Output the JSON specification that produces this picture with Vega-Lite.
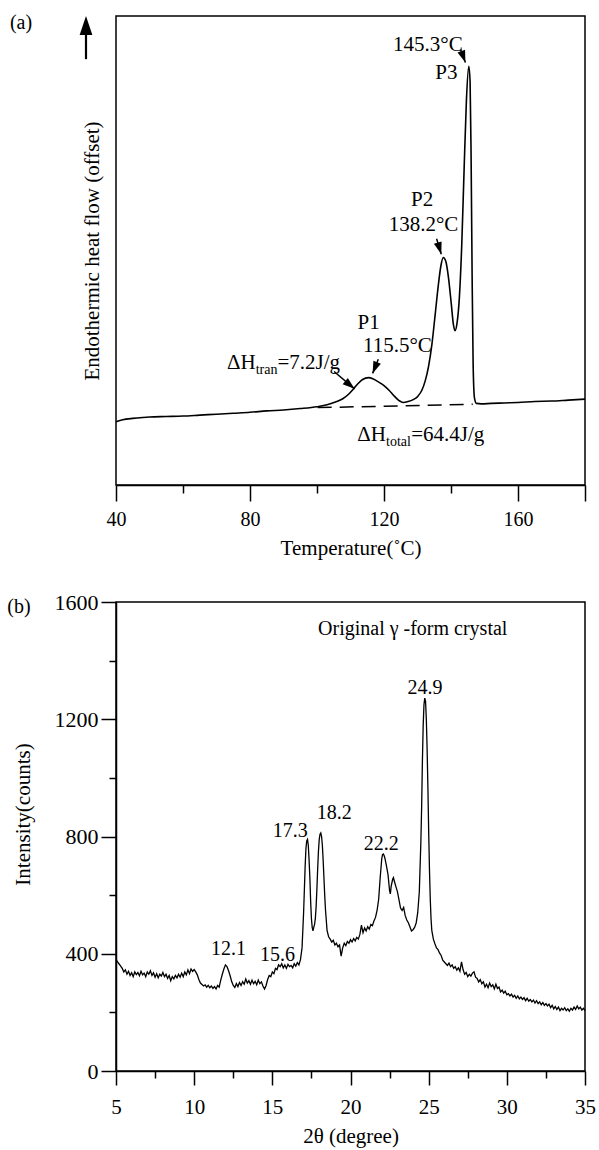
{
  "$schema": "https://vega.github.io/schema/vega-lite/v6.json",
  "padding": {"left": 6, "top": 12, "right": 2, "bottom": 2},
  "spacing": 31,
  "background": "white",
  "config": {
    "font": "Liberation Serif",
    "view": {"stroke": "black", "strokeWidth": 1.5},
    "axis": {
      "labelFont": "Liberation Serif", "labelFontSize": 20, "labelColor": "black",
      "titleFont": "Liberation Serif", "titleFontSize": 21, "titleFontWeight": "normal", "titleColor": "black",
      "domainColor": "black", "domainWidth": 1.5, "tickColor": "black", "tickWidth": 1.5,
      "grid": false, "labelFlush": false, "labelOverlap": false
    },
    "text": {"font": "Liberation Serif", "fontSize": 21, "color": "black"}
  },
  "datasets": {
    "dsc": [
      {"T": 40, "v": 13.5}, {"T": 42, "v": 13.9}, {"T": 45, "v": 14.2}, {"T": 48, "v": 14.4},
      {"T": 50, "v": 14.5}, {"T": 55, "v": 14.6}, {"T": 60, "v": 14.7}, {"T": 65, "v": 14.9},
      {"T": 70, "v": 15.1}, {"T": 75, "v": 15.3}, {"T": 80, "v": 15.5}, {"T": 85, "v": 15.8},
      {"T": 90, "v": 16.0}, {"T": 95, "v": 16.3}, {"T": 100, "v": 16.7}, {"T": 103, "v": 17.1},
      {"T": 105.5, "v": 17.7}, {"T": 107.7, "v": 18.4}, {"T": 109.5, "v": 19.4}, {"T": 110.8, "v": 20.4},
      {"T": 112.2, "v": 21.6}, {"T": 113.6, "v": 22.5}, {"T": 115.4, "v": 22.9}, {"T": 116.8, "v": 22.6},
      {"T": 118.3, "v": 22.0}, {"T": 120, "v": 21.2}, {"T": 121.5, "v": 20.2}, {"T": 123, "v": 19.0},
      {"T": 124.5, "v": 18.0}, {"T": 125.7, "v": 17.6}, {"T": 127.2, "v": 17.8}, {"T": 128.7, "v": 18.2},
      {"T": 130.2, "v": 19.0}, {"T": 131.3, "v": 20.2}, {"T": 132.3, "v": 22.2}, {"T": 133.3, "v": 25.3},
      {"T": 134.3, "v": 30.0}, {"T": 135.3, "v": 36.5}, {"T": 136.2, "v": 42.5}, {"T": 137.0, "v": 46.8},
      {"T": 137.7, "v": 48.5}, {"T": 138.4, "v": 47.8}, {"T": 139.2, "v": 44.5}, {"T": 140.1, "v": 38.5},
      {"T": 140.7, "v": 34.3}, {"T": 141.2, "v": 32.9}, {"T": 141.8, "v": 34.5}, {"T": 142.5, "v": 40.0},
      {"T": 143.2, "v": 51.0}, {"T": 143.9, "v": 67.0}, {"T": 144.6, "v": 82.0}, {"T": 145.3, "v": 89.3},
      {"T": 145.7, "v": 86.0}, {"T": 146.0, "v": 70.0}, {"T": 146.3, "v": 45.0}, {"T": 146.6, "v": 26.0},
      {"T": 147.0, "v": 18.6}, {"T": 147.6, "v": 17.4}, {"T": 149, "v": 17.3}, {"T": 152, "v": 17.4},
      {"T": 156, "v": 17.5}, {"T": 160, "v": 17.6}, {"T": 165, "v": 17.8}, {"T": 170, "v": 17.9},
      {"T": 175, "v": 18.1}, {"T": 180, "v": 18.3}
    ],
    "xrd": [
      {"t": 5.0, "c": 380}, {"t": 5.1, "c": 372}, {"t": 5.2, "c": 365}, {"t": 5.3, "c": 358}, {"t": 5.4, "c": 350},
      {"t": 5.5, "c": 338}, {"t": 5.6, "c": 345}, {"t": 5.7, "c": 330}, {"t": 5.8, "c": 340}, {"t": 5.9, "c": 326},
      {"t": 6.0, "c": 335}, {"t": 6.1, "c": 322}, {"t": 6.2, "c": 338}, {"t": 6.3, "c": 329}, {"t": 6.4, "c": 336},
      {"t": 6.5, "c": 325}, {"t": 6.6, "c": 340}, {"t": 6.7, "c": 328}, {"t": 6.8, "c": 334}, {"t": 6.9, "c": 322},
      {"t": 7.0, "c": 338}, {"t": 7.1, "c": 330}, {"t": 7.2, "c": 342}, {"t": 7.3, "c": 326}, {"t": 7.4, "c": 335},
      {"t": 7.5, "c": 320}, {"t": 7.6, "c": 332}, {"t": 7.7, "c": 318}, {"t": 7.8, "c": 330}, {"t": 7.9, "c": 324},
      {"t": 8.0, "c": 336}, {"t": 8.1, "c": 322}, {"t": 8.2, "c": 330}, {"t": 8.3, "c": 316}, {"t": 8.4, "c": 326},
      {"t": 8.5, "c": 308}, {"t": 8.6, "c": 322}, {"t": 8.7, "c": 314}, {"t": 8.8, "c": 326}, {"t": 8.9, "c": 318},
      {"t": 9.0, "c": 330}, {"t": 9.1, "c": 320}, {"t": 9.2, "c": 334}, {"t": 9.3, "c": 322}, {"t": 9.4, "c": 338},
      {"t": 9.5, "c": 328}, {"t": 9.6, "c": 345}, {"t": 9.7, "c": 332}, {"t": 9.8, "c": 348}, {"t": 9.9, "c": 340},
      {"t": 10.0, "c": 346}, {"t": 10.1, "c": 338}, {"t": 10.2, "c": 328}, {"t": 10.3, "c": 312}, {"t": 10.4, "c": 300},
      {"t": 10.5, "c": 295}, {"t": 10.6, "c": 290}, {"t": 10.7, "c": 294}, {"t": 10.8, "c": 286}, {"t": 10.9, "c": 292},
      {"t": 11.0, "c": 284}, {"t": 11.1, "c": 290}, {"t": 11.2, "c": 282}, {"t": 11.3, "c": 288}, {"t": 11.4, "c": 280},
      {"t": 11.5, "c": 292}, {"t": 11.6, "c": 286}, {"t": 11.7, "c": 310}, {"t": 11.8, "c": 330}, {"t": 11.9, "c": 348},
      {"t": 12.0, "c": 362}, {"t": 12.1, "c": 356}, {"t": 12.2, "c": 342}, {"t": 12.3, "c": 325}, {"t": 12.4, "c": 305},
      {"t": 12.5, "c": 292}, {"t": 12.6, "c": 285}, {"t": 12.7, "c": 298}, {"t": 12.8, "c": 288}, {"t": 12.9, "c": 302},
      {"t": 13.0, "c": 292}, {"t": 13.1, "c": 305}, {"t": 13.2, "c": 296}, {"t": 13.3, "c": 314}, {"t": 13.4, "c": 300},
      {"t": 13.5, "c": 308}, {"t": 13.6, "c": 296}, {"t": 13.7, "c": 310}, {"t": 13.8, "c": 298}, {"t": 13.9, "c": 306},
      {"t": 14.0, "c": 294}, {"t": 14.1, "c": 310}, {"t": 14.2, "c": 298}, {"t": 14.3, "c": 304}, {"t": 14.4, "c": 290},
      {"t": 14.5, "c": 280}, {"t": 14.6, "c": 292}, {"t": 14.7, "c": 312}, {"t": 14.8, "c": 326}, {"t": 14.9, "c": 322},
      {"t": 15.0, "c": 338}, {"t": 15.1, "c": 332}, {"t": 15.2, "c": 350}, {"t": 15.3, "c": 346}, {"t": 15.4, "c": 362},
      {"t": 15.5, "c": 356}, {"t": 15.6, "c": 366}, {"t": 15.7, "c": 352}, {"t": 15.8, "c": 362}, {"t": 15.9, "c": 350},
      {"t": 16.0, "c": 364}, {"t": 16.1, "c": 356}, {"t": 16.2, "c": 360}, {"t": 16.3, "c": 352}, {"t": 16.4, "c": 366},
      {"t": 16.5, "c": 358}, {"t": 16.6, "c": 370}, {"t": 16.7, "c": 362}, {"t": 16.8, "c": 380}, {"t": 16.9, "c": 420},
      {"t": 17.0, "c": 540}, {"t": 17.05, "c": 620}, {"t": 17.1, "c": 700}, {"t": 17.15, "c": 760}, {"t": 17.2, "c": 785},
      {"t": 17.25, "c": 790}, {"t": 17.3, "c": 770}, {"t": 17.35, "c": 720}, {"t": 17.4, "c": 660}, {"t": 17.45, "c": 580},
      {"t": 17.5, "c": 520}, {"t": 17.55, "c": 490}, {"t": 17.6, "c": 478}, {"t": 17.65, "c": 490}, {"t": 17.7, "c": 500},
      {"t": 17.75, "c": 520}, {"t": 17.8, "c": 560}, {"t": 17.85, "c": 620}, {"t": 17.9, "c": 690}, {"t": 17.95, "c": 750},
      {"t": 18.0, "c": 790}, {"t": 18.05, "c": 808}, {"t": 18.1, "c": 812}, {"t": 18.15, "c": 800}, {"t": 18.2, "c": 770},
      {"t": 18.25, "c": 720}, {"t": 18.3, "c": 660}, {"t": 18.35, "c": 600}, {"t": 18.4, "c": 550}, {"t": 18.5, "c": 480},
      {"t": 18.6, "c": 458}, {"t": 18.7, "c": 450}, {"t": 18.8, "c": 440}, {"t": 18.9, "c": 446}, {"t": 19.0, "c": 430},
      {"t": 19.1, "c": 436}, {"t": 19.2, "c": 424}, {"t": 19.3, "c": 430}, {"t": 19.4, "c": 392}, {"t": 19.5, "c": 420},
      {"t": 19.6, "c": 436}, {"t": 19.7, "c": 428}, {"t": 19.8, "c": 442}, {"t": 19.9, "c": 436}, {"t": 20.0, "c": 448},
      {"t": 20.1, "c": 440}, {"t": 20.2, "c": 452}, {"t": 20.3, "c": 444}, {"t": 20.4, "c": 456}, {"t": 20.5, "c": 450},
      {"t": 20.6, "c": 466}, {"t": 20.7, "c": 498}, {"t": 20.8, "c": 472}, {"t": 20.9, "c": 488}, {"t": 21.0, "c": 478},
      {"t": 21.1, "c": 492}, {"t": 21.2, "c": 484}, {"t": 21.3, "c": 500}, {"t": 21.4, "c": 496}, {"t": 21.5, "c": 512},
      {"t": 21.6, "c": 524}, {"t": 21.7, "c": 548}, {"t": 21.8, "c": 585}, {"t": 21.9, "c": 660}, {"t": 22.0, "c": 725},
      {"t": 22.05, "c": 738}, {"t": 22.1, "c": 740}, {"t": 22.15, "c": 735}, {"t": 22.2, "c": 726}, {"t": 22.3, "c": 700},
      {"t": 22.4, "c": 670}, {"t": 22.5, "c": 615}, {"t": 22.55, "c": 604}, {"t": 22.6, "c": 630}, {"t": 22.7, "c": 655},
      {"t": 22.75, "c": 660}, {"t": 22.8, "c": 648}, {"t": 22.9, "c": 630}, {"t": 23.0, "c": 612}, {"t": 23.1, "c": 585},
      {"t": 23.2, "c": 556}, {"t": 23.3, "c": 548}, {"t": 23.4, "c": 558}, {"t": 23.5, "c": 530}, {"t": 23.6, "c": 515},
      {"t": 23.7, "c": 506}, {"t": 23.8, "c": 492}, {"t": 23.9, "c": 478}, {"t": 24.0, "c": 482}, {"t": 24.1, "c": 490},
      {"t": 24.2, "c": 505}, {"t": 24.3, "c": 540}, {"t": 24.4, "c": 610}, {"t": 24.5, "c": 780}, {"t": 24.55, "c": 900},
      {"t": 24.6, "c": 1060}, {"t": 24.65, "c": 1180}, {"t": 24.7, "c": 1250}, {"t": 24.75, "c": 1272}, {"t": 24.8, "c": 1262},
      {"t": 24.85, "c": 1200}, {"t": 24.9, "c": 1100}, {"t": 24.95, "c": 970}, {"t": 25.0, "c": 820}, {"t": 25.05, "c": 690},
      {"t": 25.1, "c": 590}, {"t": 25.15, "c": 520}, {"t": 25.2, "c": 480}, {"t": 25.3, "c": 450}, {"t": 25.4, "c": 434},
      {"t": 25.5, "c": 420}, {"t": 25.6, "c": 414}, {"t": 25.7, "c": 402}, {"t": 25.8, "c": 394}, {"t": 25.9, "c": 378},
      {"t": 26.0, "c": 372}, {"t": 26.1, "c": 366}, {"t": 26.2, "c": 360}, {"t": 26.3, "c": 368}, {"t": 26.4, "c": 356},
      {"t": 26.5, "c": 362}, {"t": 26.6, "c": 350}, {"t": 26.7, "c": 356}, {"t": 26.8, "c": 344}, {"t": 26.9, "c": 352},
      {"t": 27.0, "c": 340}, {"t": 27.1, "c": 372}, {"t": 27.2, "c": 346}, {"t": 27.3, "c": 330}, {"t": 27.4, "c": 336},
      {"t": 27.5, "c": 322}, {"t": 27.6, "c": 330}, {"t": 27.7, "c": 324}, {"t": 27.8, "c": 334}, {"t": 27.9, "c": 338},
      {"t": 28.0, "c": 320}, {"t": 28.1, "c": 316}, {"t": 28.2, "c": 304}, {"t": 28.3, "c": 312}, {"t": 28.4, "c": 298},
      {"t": 28.5, "c": 304}, {"t": 28.6, "c": 286}, {"t": 28.7, "c": 296}, {"t": 28.8, "c": 284}, {"t": 28.9, "c": 300},
      {"t": 29.0, "c": 288}, {"t": 29.1, "c": 294}, {"t": 29.2, "c": 280}, {"t": 29.3, "c": 296}, {"t": 29.4, "c": 282},
      {"t": 29.5, "c": 286}, {"t": 29.6, "c": 270}, {"t": 29.7, "c": 276}, {"t": 29.8, "c": 266}, {"t": 29.9, "c": 272},
      {"t": 30.0, "c": 260}, {"t": 30.1, "c": 264}, {"t": 30.2, "c": 256}, {"t": 30.3, "c": 262}, {"t": 30.4, "c": 252},
      {"t": 30.5, "c": 258}, {"t": 30.6, "c": 248}, {"t": 30.7, "c": 256}, {"t": 30.8, "c": 246}, {"t": 30.9, "c": 252},
      {"t": 31.0, "c": 244}, {"t": 31.1, "c": 250}, {"t": 31.2, "c": 240}, {"t": 31.3, "c": 248}, {"t": 31.4, "c": 238},
      {"t": 31.5, "c": 244}, {"t": 31.6, "c": 236}, {"t": 31.7, "c": 242}, {"t": 31.8, "c": 232}, {"t": 31.9, "c": 240},
      {"t": 32.0, "c": 230}, {"t": 32.1, "c": 236}, {"t": 32.2, "c": 226}, {"t": 32.3, "c": 234}, {"t": 32.4, "c": 224},
      {"t": 32.5, "c": 230}, {"t": 32.6, "c": 222}, {"t": 32.7, "c": 228}, {"t": 32.8, "c": 216}, {"t": 32.9, "c": 224},
      {"t": 33.0, "c": 212}, {"t": 33.1, "c": 220}, {"t": 33.2, "c": 210}, {"t": 33.3, "c": 218}, {"t": 33.4, "c": 206},
      {"t": 33.5, "c": 214}, {"t": 33.6, "c": 208}, {"t": 33.7, "c": 216}, {"t": 33.8, "c": 206}, {"t": 33.9, "c": 212},
      {"t": 34.0, "c": 204}, {"t": 34.1, "c": 214}, {"t": 34.2, "c": 208}, {"t": 34.3, "c": 218}, {"t": 34.4, "c": 210},
      {"t": 34.5, "c": 222}, {"t": 34.6, "c": 212}, {"t": 34.7, "c": 218}, {"t": 34.8, "c": 208}, {"t": 34.9, "c": 214},
      {"t": 35.0, "c": 206}
    ]
  },
  "vconcat": [
    {
      "width": 469,
      "height": 469,
      "encoding": {
        "x": {
          "field": "T", "type": "quantitative",
          "scale": {"domain": [40, 180], "nice": false, "zero": false},
          "axis": {
            "title": "Temperature(˚C)",
            "values": [40, 60, 80, 100, 120, 140, 160, 180],
            "labelExpr": "(datum.value % 40 == 0 && datum.value < 180) ? datum.label : ''",
            "tickSize": {"condition": {"test": "datum.value % 40 == 0 || datum.value == 180", "value": 16}, "value": 8},
            "labelPadding": 8,
            "titlePadding": 8
          }
        },
        "y": {
          "field": "v", "type": "quantitative",
          "scale": {"domain": [0, 100], "nice": false, "zero": false},
          "axis": {
            "title": "Endothermic heat flow (offset)",
            "ticks": false, "labels": false, "domain": false,
            "titlePadding": 14
          }
        }
      },
      "layer": [
        {
          "data": {"name": "dsc"},
          "mark": {"type": "line", "color": "black", "strokeWidth": 1.6, "interpolate": "monotone"}
        },
        {
          "data": {"values": [{"T": 100.2, "v": 16.5}, {"T": 146.5, "v": 17.2}]},
          "mark": {"type": "line", "color": "black", "strokeWidth": 1.5, "strokeDash": [14, 8]}
        },
        {
          "data": {"values": [
            {"T": 133.1, "v": 93.9, "label": "145.3°C"},
            {"T": 138.6, "v": 87.8, "label": "P3"},
            {"T": 131.4, "v": 60.7, "label": "P2"},
            {"T": 131.8, "v": 55.4, "label": "138.2°C"},
            {"T": 115.4, "v": 34.6, "label": "P1"},
            {"T": 124.0, "v": 29.6, "label": "115.5°C"}
          ]},
          "mark": {"type": "text", "align": "center", "baseline": "middle"},
          "encoding": {"text": {"field": "label"}}
        },
        {
          "data": {"values": [
            {"T": 81.7, "v": 26.0, "label": "ΔH"},
            {"T": 120.6, "v": 10.6, "label": "ΔH"}
          ]},
          "mark": {"type": "text", "align": "right", "baseline": "middle"},
          "encoding": {"text": {"field": "label"}}
        },
        {
          "data": {"values": [
            {"T": 81.7, "v": 24.6, "label": "tran"},
            {"T": 120.6, "v": 9.2, "label": "total"}
          ]},
          "mark": {"type": "text", "align": "left", "baseline": "middle", "fontSize": 14},
          "encoding": {"text": {"field": "label"}}
        },
        {
          "data": {"values": [
            {"T": 88.2, "v": 26.0, "label": "=7.2J/g"},
            {"T": 128.1, "v": 10.6, "label": "=64.4J/g"}
          ]},
          "mark": {"type": "text", "align": "left", "baseline": "middle"},
          "encoding": {"text": {"field": "label"}}
        },
        {
          "data": {"values": [
            {"T": 142.9, "v": 92.8, "T2": 144.3, "v2": 90.1},
            {"T": 135.7, "v": 52.5, "T2": 137.1, "v2": 49.2},
            {"T": 118.3, "v": 26.8, "T2": 116.6, "v2": 23.8},
            {"T": 105.1, "v": 24.2, "T2": 111.2, "v2": 20.5}
          ]},
          "mark": {"type": "rule", "color": "black", "strokeWidth": 1.5},
          "encoding": {"x2": {"field": "T2"}, "y2": {"field": "v2"}}
        },
        {
          "data": {"values": [{"T": 144.3, "v": 90.1}]},
          "mark": {"type": "point", "shape": "M0,0L0.5,1.5L-0.5,1.5Z", "filled": true, "color": "black", "opacity": 1, "size": 260, "angle": 160}
        },
        {
          "data": {"values": [{"T": 137.1, "v": 49.2}]},
          "mark": {"type": "point", "shape": "M0,0L0.5,1.5L-0.5,1.5Z", "filled": true, "color": "black", "opacity": 1, "size": 260, "angle": 163}
        },
        {
          "data": {"values": [{"T": 116.6, "v": 23.8}]},
          "mark": {"type": "point", "shape": "M0,0L0.5,1.5L-0.5,1.5Z", "filled": true, "color": "black", "opacity": 1, "size": 260, "angle": 202}
        },
        {
          "data": {"values": [{"T": 111.2, "v": 20.5}]},
          "mark": {"type": "point", "shape": "M0,0L0.5,1.5L-0.5,1.5Z", "filled": true, "color": "black", "opacity": 1, "size": 260, "angle": 130}
        },
        {
          "data": {"values": [{"T": 40, "v": 97.5, "v2": 90.8}]},
          "mark": {"type": "rule", "color": "black", "strokeWidth": 2.2, "xOffset": -30},
          "encoding": {"y2": {"field": "v2"}}
        },
        {
          "data": {"values": [{"T": 40, "v": 100}]},
          "mark": {"type": "point", "shape": "M0,0L0.5,1.5L-0.5,1.5Z", "filled": true, "color": "black", "opacity": 1, "size": 650, "xOffset": -30}
        },
        {
          "data": {"values": [{"T": 40, "v": 100, "label": "(a)"}]},
          "mark": {"type": "text", "align": "center", "baseline": "middle", "fontSize": 20, "dx": -95, "dy": 7},
          "encoding": {"text": {"field": "label"}}
        }
      ]
    },
    {
      "width": 469,
      "height": 469,
      "encoding": {
        "x": {
          "field": "t", "type": "quantitative",
          "scale": {"domain": [5, 35], "nice": false, "zero": false},
          "axis": {
            "title": "2θ (degree)",
            "values": [5, 7.5, 10, 12.5, 15, 17.5, 20, 22.5, 25, 27.5, 30, 32.5, 35],
            "labelExpr": "datum.value % 5 == 0 ? datum.label : ''",
            "tickSize": {"condition": {"test": "datum.value % 5 == 0", "value": 14}, "value": 7},
            "labelFontSize": 21,
            "labelPadding": 11,
            "titlePadding": 8
          }
        },
        "y": {
          "field": "c", "type": "quantitative",
          "scale": {"domain": [0, 1600], "nice": false, "zero": true},
          "axis": {
            "title": "Intensity(counts)",
            "values": [0, 200, 400, 600, 800, 1000, 1200, 1400, 1600],
            "labelExpr": "datum.value % 400 == 0 ? datum.label : ''",
            "format": "d",
            "tickSize": {"condition": {"test": "datum.value % 400 == 0", "value": 15}, "value": 7},
            "labelFontSize": 22,
            "labelPadding": 3,
            "titlePadding": 21,
            "titleY": 212
          }
        }
      },
      "layer": [
        {
          "data": {"name": "xrd"},
          "mark": {"type": "line", "color": "black", "strokeWidth": 1.3}
        },
        {
          "data": {"values": [
            {"t": 12.2, "c": 415, "label": "12.1"},
            {"t": 15.33, "c": 397, "label": "15.6"},
            {"t": 16.14, "c": 818, "label": "17.3"},
            {"t": 18.96, "c": 880, "label": "18.2"},
            {"t": 21.97, "c": 775, "label": "22.2"},
            {"t": 24.77, "c": 1306, "label": "24.9"},
            {"t": 23.98, "c": 1507, "label": "Original γ -form crystal"}
          ]},
          "mark": {"type": "text", "align": "center", "baseline": "middle", "fontSize": 20},
          "encoding": {"text": {"field": "label"}}
        },
        {
          "data": {"values": [{"t": 5, "c": 1600, "label": "(b)"}]},
          "mark": {"type": "text", "align": "center", "baseline": "middle", "fontSize": 20, "dx": -97, "dy": 5},
          "encoding": {"text": {"field": "label"}}
        }
      ]
    }
  ]
}
